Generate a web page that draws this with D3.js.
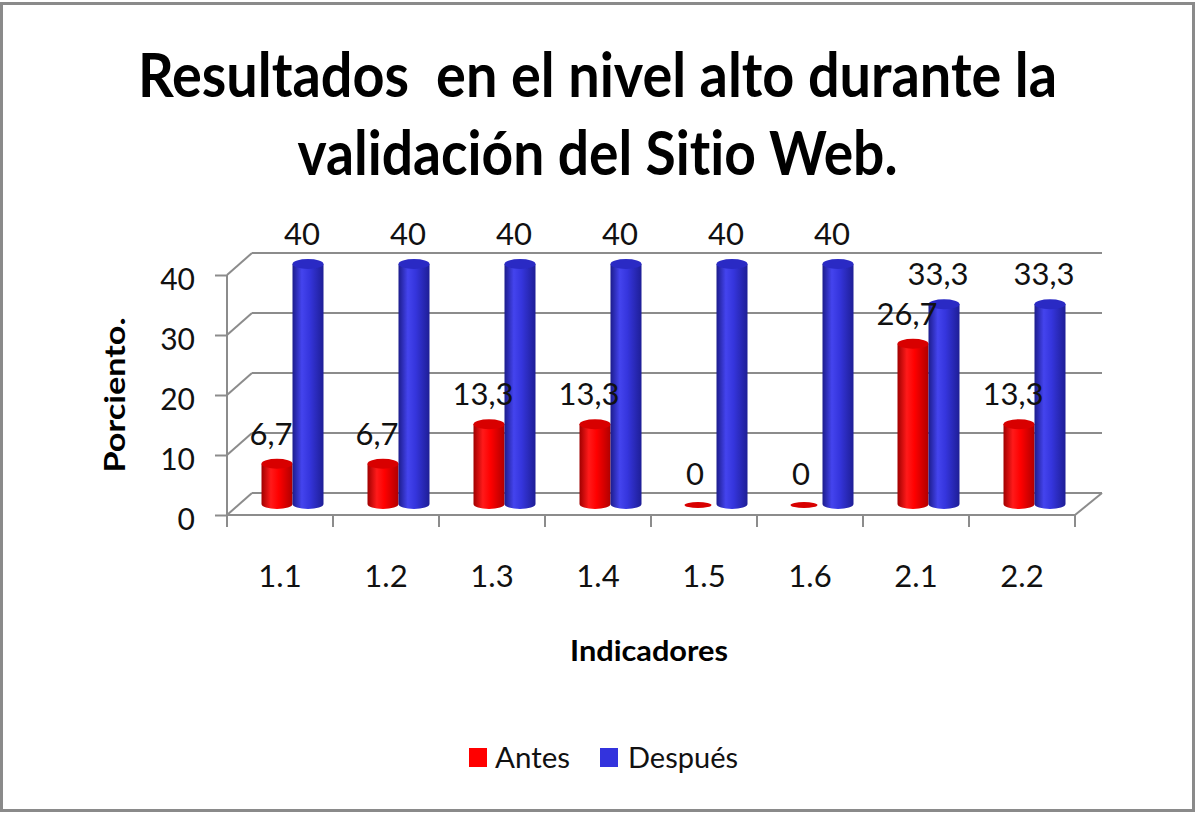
<!DOCTYPE html>
<html><head><meta charset="utf-8">
<script src="https://cdn.jsdelivr.net/npm/d3@7"></script>
<style>html,body{margin:0;padding:0;background:#fff;}svg{display:block;}svg text{font-variant-ligatures:none;font-feature-settings:"liga" 0,"clig" 0;}</style>
</head><body>
<svg id="chart" width="1195" height="813"></svg>
<script>
const titleLines = ["Resultados  en el nivel alto durante la", "validación del Sitio Web."];
const categories = ["1.1","1.2","1.3","1.4","1.5","1.6","2.1","2.2"];
const antes = [6.7, 6.7, 13.3, 13.3, 0, 0, 26.7, 13.3];
const despues = [40, 40, 40, 40, 40, 40, 33.3, 33.3];
const seriesNames = ["Antes", "Después"];
const yTicks = [0, 10, 20, 30, 40];
const yLabel = "Porciento.";
const xLabel = "Indicadores";

const svg = d3.select("#chart");
const W = 1195, H = 813;
const FONT = "Lato, 'Open Sans', sans-serif";
const colors = {Antes: ["#a00000", "#ff1a1a", "#ff0000", "#b00000", "#d80000"],
                Después: ["#1c1c8c", "#4444ee", "#3535dd", "#1e1e96", "#2a2ac4"]};

svg.append("rect").attr("x",0).attr("y",0).attr("width",W).attr("height",H).attr("fill","#fff");
svg.append("rect").attr("x",1.5).attr("y",3.5).attr("width",W-3).attr("height",H-6)
  .attr("fill","none").attr("stroke","#8a8a8a").attr("stroke-width",3);

// gradients
const defs = svg.append("defs");
seriesNames.forEach((s,i) => {
  const c = colors[s];
  const g = defs.append("linearGradient").attr("id","g"+i).attr("x1","0").attr("x2","1").attr("y1","0").attr("y2","0");
  [[0,c[0]],[0.3,c[1]],[0.55,c[2]],[1,c[3]]].forEach(([o,col]) => g.append("stop").attr("offset",o).attr("stop-color",col));
});

// title
titleLines.forEach((t,i) => {
  svg.append("text").attr("x", 597.5).attr("y", [97,175][i]).attr("text-anchor","middle")
    .attr("font-family", FONT).attr("font-weight","bold").attr("font-size",61)
    .attr("textLength", [919,600][i]).attr("lengthAdjust","spacingAndGlyphs")
    .style("white-space","pre").attr("fill","#000").text(t);
});

// scales
const x = d3.scaleBand().domain(categories).range([227, 1075]);
const y = d3.scaleLinear().domain([0, 40]).range([515, 275]);
const DX = 25, DY = -22;
const gridColor = "#8c8c8c";

const grid = svg.append("g").attr("stroke", gridColor).attr("stroke-width", 2).attr("fill","none");
yTicks.forEach(t => {
  grid.append("line").attr("x1", x.range()[0]+DX).attr("x2", x.range()[1]+DX+2)
    .attr("y1", y(t)+DY).attr("y2", y(t)+DY);
  grid.append("line").attr("x1", x.range()[0]).attr("y1", y(t))
    .attr("x2", x.range()[0]+DX).attr("y2", y(t)+DY);
});
// floor front & right edge
grid.append("line").attr("x1", x.range()[0]).attr("x2", x.range()[1]).attr("y1", y(0)).attr("y2", y(0));
grid.append("line").attr("x1", x.range()[1]).attr("y1", y(0)).attr("x2", x.range()[1]+DX+2).attr("y2", y(0)+DY);

// y axis
const yAxis = d3.axisLeft(y).tickValues(yTicks).tickSize(12).tickPadding(20).tickFormat(d3.format("d"));
const ya = svg.append("g").attr("transform", `translate(${x.range()[0]},0)`).call(yAxis);
ya.select(".domain").attr("stroke", gridColor).attr("stroke-width", 2).attr("d", `M0,${y(40)}V${y(0)+12}`);
ya.selectAll(".tick line").attr("stroke", gridColor).attr("stroke-width", 2);
ya.selectAll(".tick text").attr("font-family", FONT).attr("font-size", 30).attr("fill","#111").attr("dy","0.48em");

// x axis
const xAxis = d3.axisBottom(x).tickSize(0).tickPadding(0);
const xa = svg.append("g").attr("transform", `translate(0,${y(0)})`).call(xAxis);
xa.select(".domain").remove();
xa.selectAll(".tick text").attr("font-family", FONT).attr("font-size", 31).attr("fill","#111")
  .attr("y", 72).attr("dy", 0);
const bounds = categories.map(c => x(c)).concat([x.range()[1]]);
svg.append("g").selectAll("line").data(bounds).join("line")
  .attr("x1", d => d).attr("x2", d => d).attr("y1", y(0)).attr("y2", y(0)+12)
  .attr("stroke", gridColor).attr("stroke-width", 2);

// bars (cylinders) at mid depth
const locale = d3.formatLocale({decimal: ",", thousands: ".", grouping: [3], currency: ["", ""]});
const fmt = locale.format(".1~f");
const bw = 31, rx = bw/2, ry = 5;
const midDX = DX/2, midDY = DY/2;
const barsG = svg.append("g");
const labelsG = svg.append("g");
const data = [];
categories.forEach((c,i) => {
  [antes[i], despues[i]].forEach((v,k) => data.push({c, v, k, s: seriesNames[k]}));
});
data.forEach(d => {
  const cx = x(d.c) + x.bandwidth()/2 + midDX + (d.k === 0 ? -rx : rx);
  const base = y(0) + midDY;
  const top = y(d.v) + midDY;
  const c = colors[d.s];
  if (d.v > 0) {
    barsG.append("path")
      .attr("d", `M${cx-rx},${top} L${cx-rx},${base} A${rx},${ry} 0 0 0 ${cx+rx},${base} L${cx+rx},${top} Z`)
      .attr("fill", `url(#g${d.k})`);
    barsG.append("ellipse").attr("cx", cx).attr("cy", top).attr("rx", rx).attr("ry", ry)
      .attr("fill", c[4]);
  } else {
    barsG.append("ellipse").attr("cx", cx-3).attr("cy", base+1).attr("rx", rx-2).attr("ry", 3)
      .attr("fill", c[4]);
  }
  labelsG.append("text").attr("x", cx - 6).attr("y", top - 31).attr("text-anchor","middle")
    .attr("dominant-baseline","central").attr("font-family", FONT).attr("font-size", 31)
    .attr("fill","#111").text(fmt(d.v));
});

// axis titles
svg.append("text").attr("transform","translate(125,395) rotate(-90)").attr("text-anchor","middle")
  .attr("font-family", FONT).attr("font-weight","bold").attr("font-size", 28)
  .attr("textLength", 155).attr("lengthAdjust","spacingAndGlyphs").text(yLabel);
svg.append("text").attr("x", 649).attr("y", 661).attr("text-anchor","middle")
  .attr("font-family", FONT).attr("font-weight","bold").attr("font-size", 29)
  .attr("textLength", 158).attr("lengthAdjust","spacingAndGlyphs").text(xLabel);

// legend
const legend = svg.append("g");
const lx = [469, 600], tx = [495, 628], tl = [75, 110];
seriesNames.forEach((s,i) => {
  legend.append("rect").attr("x", lx[i]).attr("y", 748).attr("width", 18).attr("height", 19)
    .attr("fill", i === 0 ? "#ff0000" : "#3333dd");
  legend.append("text").attr("x", tx[i]).attr("y", 768).attr("font-family", FONT).attr("font-size", 29)
    .attr("textLength", tl[i]).attr("lengthAdjust","spacingAndGlyphs").attr("fill","#111").text(s);
});
</script>
</body></html>
